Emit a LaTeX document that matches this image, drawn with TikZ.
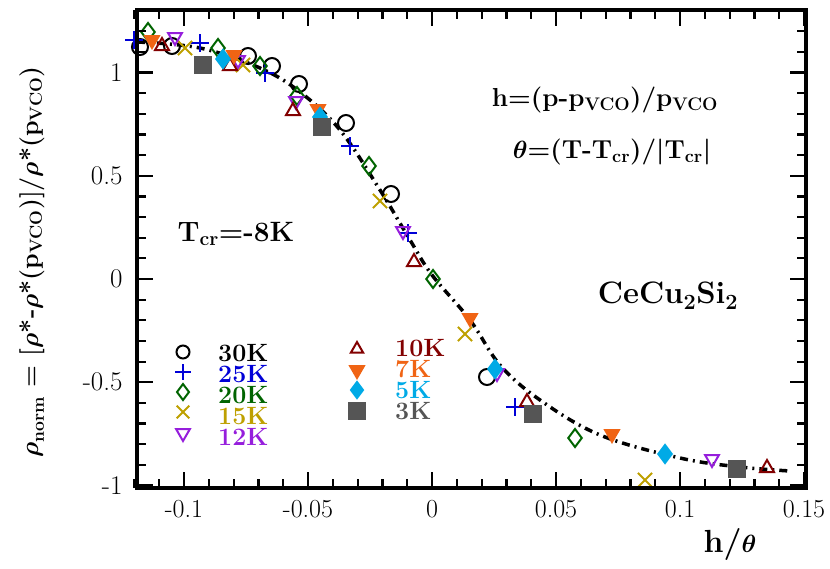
\documentclass[tikz,border=0pt]{standalone}
\usepackage{amsmath,amssymb}
\usepackage{tikz}
\usetikzlibrary{plotmarks}

\definecolor{cBlue}{RGB}{0,0,215}
\definecolor{cGreen}{RGB}{0,100,0}
\definecolor{cGold}{RGB}{190,160,0}
\definecolor{cPurple}{RGB}{150,30,220}
\definecolor{cRed}{RGB}{130,0,0}
\definecolor{cOrange}{RGB}{240,100,20}
\definecolor{cCyan}{RGB}{0,170,230}
\definecolor{cGray}{RGB}{85,85,85}

\tikzset{
  mk/.style={only marks, mark size=8pt, line width=2pt},
  lbl/.style={font=\fontsize{25}{27}\selectfont\bfseries, anchor=west, inner sep=0pt},
  tick/.style={line width=2.2pt}
}

\begin{document}
\begin{tikzpicture}[x=1pt, y=-1pt]
   \useasboundingbox (0,0) rectangle (830,568);

   % Fit curve
   \draw[line width=3.5pt, dash pattern=on 8pt off 5pt on 2pt off 5pt]
     plot[smooth, tension=0.6] coordinates {(137,42) (200,48) (260,68) (300,92)
       (340,130) (380,190) (410,240) (432,275) (470,320) (500,365)
       (540,400) (600,435) (680,458) (740,467) (790,471)};

   % Data
   \draw[mk, black] plot[mark=o] coordinates {(140,47) (172,46) (248,56) (272,66) (299,84) (346,123) (391,194) (487,377)};
   \draw[mk, cBlue] plot[mark=+, mark size=9pt] coordinates {(134,40) (200,43) (265,73) (350,146) (408,233) (515,407)};
   \draw[mk, cGreen] plot[mark=diamond, mark size=9pt] coordinates {(148,32) (218,48) (260,66) (297,96) (369,166) (433,279) (575,438)};
   \draw[mk, cGold] plot[mark=x, mark size=10pt] coordinates {(185,48) (243,65) (380,201) (465,334) (645,480)};
   \draw[mk, cPurple] plot[mark=triangle, mark options={rotate=180}] coordinates {(175,37) (238,60) (296,101) (403,231) (497,373) (712,459)};
   \draw[mk, cRed] plot[mark=triangle] coordinates {(162,46) (230,66) (293,111) (414,262) (527,402) (767,468)};
   \draw[mk, cOrange] plot[mark=triangle*, mark options={rotate=180}] coordinates {(152,40) (234,55) (318,109) (470,318) (612,434)};
   \draw[mk, cCyan] plot[mark=diamond*, mark size=9pt] coordinates {(223,59) (320,117) (495,369) (665,454)};
   \draw[mk, cGray] plot[mark=square*] coordinates {(203,65) (322,127) (533,414) (737,469)};

   % Frame and ticks
   \draw[line width=3.5pt] (137,10) rectangle (806,488);
   \foreach \i in {-12,...,15} {
     \pgfmathsetmacro{\xx}{432+24.8*\i}
     \draw[tick] (\xx,488) -- ++(0,-9);
     \draw[tick] (\xx,10) -- ++(0,9);
   }
   \foreach \i in {-10,...,12} {
     \pgfmathsetmacro{\yy}{279-20.65*\i}
     \draw[tick] (137,\yy) -- ++(9,0);
     \draw[tick] (806,\yy) -- ++(-9,0);
   }
   \foreach \v/\t in {-1/-1, -0.5/-0.5, 0/0, 0.5/0.5, 1/1} {
     \pgfmathsetmacro{\yy}{279-206.5*\v}
     \draw[tick] (137,\yy) -- ++(16,0);
     \draw[tick] (806,\yy) -- ++(-16,0);
     \node[anchor=east, font=\fontsize{27}{29}\selectfont] at (126,\yy) {\t};
   }
   \foreach \v/\t in {-0.1/-0.1, -0.05/-0.05, 0/0, 0.05/0.05, 0.1/0.1, 0.15/0.15} {
     \pgfmathsetmacro{\xx}{432+2480*\v}
     \draw[tick] (\xx,488) -- ++(0,-16);
     \draw[tick] (\xx,10) -- ++(0,16);
     \node[font=\fontsize{26}{28}\selectfont] at (\xx,509) {\t};
   }

   % Axis labels
   \node[font=\fontsize{32}{34}\selectfont\bfseries] at (730,544) {h/$\boldsymbol\theta$};
   \node[rotate=90, font=\fontsize{25}{27}\selectfont\bfseries] at (32,262)
     {$\boldsymbol\rho_{\textbf{norm}}$ = [$\boldsymbol\rho$*-$\boldsymbol\rho$*(p$_{\textbf{VCO}}$)]/$\boldsymbol\rho$*(p$_{\textbf{VCO}}$)};

   % Annotations
   \node[font=\fontsize{26}{28}\selectfont\bfseries] at (605,100) {h=(p-p$_{\textbf{VCO}}$)/p$_{\textbf{VCO}}$};
   \node[font=\fontsize{26}{28}\selectfont\bfseries] at (612,152) {$\boldsymbol\theta$=(T-T$_{\textbf{cr}}$)/|T$_{\textbf{cr}}$|};
   \node[font=\fontsize{28}{30}\selectfont\bfseries] at (236,234) {T$_{\textbf{cr}}$=-8K};
   \node[font=\fontsize{31}{33}\selectfont\bfseries] at (668,296) {CeCu$_{\textbf{2}}$Si$_{\textbf{2}}$};

   % Legend
   \draw[mk, black, mark size=6.5pt] plot[mark=o] coordinates {(183,352)};
   \draw[mk, cBlue] plot[mark=+] coordinates {(183,372)};
   \draw[mk, cGreen] plot[mark=diamond] coordinates {(183,392)};
   \draw[mk, cGold] plot[mark=x, mark size=9pt] coordinates {(183,412)};
   \draw[mk, cPurple] plot[mark=triangle, mark options={rotate=180}] coordinates {(183,433)};
   \draw[mk, cRed] plot[mark=triangle, mark size=7pt] coordinates {(357,349)};
   \draw[mk, cOrange] plot[mark=triangle*, mark options={rotate=180}] coordinates {(357,370)};
   \draw[mk, cCyan] plot[mark=diamond*] coordinates {(357,390)};
   \draw[mk, cGray] plot[mark=square*] coordinates {(357,411)};
   \node[lbl, black] (l30) at (218,353) {30K};
   \node[lbl, cBlue] (l25) at (218,374) {25K};
   \node[lbl, cGreen] (l20) at (218,395) {20K};
   \node[lbl, cGold] (l15) at (218,416) {15K};
   \node[lbl, cPurple] (l12) at (218,437) {12K};
   \node[lbl, cRed] (l10) at (395,348) {10K};
   \node[lbl, cOrange] (l7) at (395,369) {7K};
   \node[lbl, cCyan] (l5) at (395,390) {5K};
   \node[lbl, cGray] (l3) at (395,411) {3K};
\end{tikzpicture}
\end{document}
